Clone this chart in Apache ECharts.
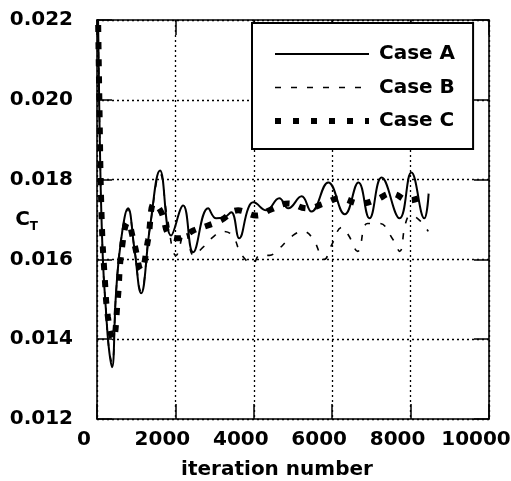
<!DOCTYPE html>
<html>
<head>
<meta charset="utf-8">
<script src="https://cdn.jsdelivr.net/npm/echarts@6/dist/echarts.min.js"></script>
<style>
html,body{margin:0;padding:0;background:#fff;}
#chart{width:511px;height:481px;}
</style>
</head>
<body>
<div id="chart"></div>
<script>
// ---- data ----
const xTicks = [0, 2000, 4000, 6000, 8000, 10000];
const yTicks = ['0.012', '0.014', '0.016', '0.018', '0.020', '0.022'];

const iterA = [0, 80, 150, 230, 300, 383, 485, 613, 792, 950, 1124, 1350, 1609, 1890, 2197, 2452, 2835, 3040, 3244, 3423, 3627, 3857, 3985, 4317, 4650, 4880, 5220, 5470, 5900, 6320, 6670, 6950, 7260, 7720, 8020, 8350, 8460];
const ctA   = [0.0240, 0.0185, 0.0160, 0.0147, 0.0138, 0.0133, 0.01515, 0.01648, 0.01728, 0.0163, 0.01515, 0.0168, 0.01823, 0.0166, 0.01735, 0.01618, 0.01728, 0.01703, 0.01705, 0.01718, 0.01653, 0.01728, 0.01743, 0.01723, 0.01753, 0.01728, 0.01758, 0.01720, 0.01793, 0.01713, 0.01793, 0.01703, 0.01805, 0.01703, 0.01818, 0.01703, 0.01765];

const iterB = [0, 80, 150, 230, 300, 383, 485, 613, 792, 950, 1124, 1350, 1609, 1800, 2020, 2250, 2470, 2700, 2950, 3200, 3450, 3700, 3980, 4150, 4400, 4570, 5000, 5250, 5500, 5800, 5980, 6250, 6420, 6650, 6900, 7200, 7550, 7720, 7870, 8000, 8230, 8450];
const ctB   = [0.0240, 0.0185, 0.0160, 0.0147, 0.0138, 0.0134, 0.01515, 0.01648, 0.01725, 0.0163, 0.01520, 0.0168, 0.01815, 0.0170, 0.0161, 0.0167, 0.0161, 0.0163, 0.01655, 0.0167, 0.0166, 0.0161, 0.0159, 0.0161, 0.0161, 0.0162, 0.0166, 0.0167, 0.01653, 0.0160, 0.01635, 0.0168, 0.0166, 0.0162, 0.0169, 0.0169, 0.0165, 0.0162, 0.0169, 0.0171, 0.01698, 0.0167];

const iterC = [0, 60, 120, 200, 280, 410, 530, 620, 790, 950, 1130, 1300, 1460, 1640, 1850, 2100, 2470, 2830, 3160, 3600, 4060, 4440, 4880, 5370, 5790, 6200, 6720, 7130, 7510, 7970, 8350, 8450];
const ctC   = [0.0240, 0.0200, 0.0170, 0.0155, 0.01455, 0.0140, 0.0150, 0.01615, 0.01693, 0.0164, 0.01573, 0.01648, 0.0174, 0.01718, 0.0166, 0.01653, 0.01673, 0.01685, 0.01698, 0.01723, 0.0171, 0.01725, 0.0174, 0.01728, 0.0174, 0.01753, 0.0174, 0.0175, 0.01765, 0.01748, 0.01758, 0.0176];

const names = ['Case A', 'Case B', 'Case C'];

// ---- chart ----
const FONT = 'DejaVu Sans';
const pairs = (xs, ys) => xs.map((x, i) => [x, ys[i]]);
const chart = echarts.init(document.getElementById('chart'), null, {renderer: 'canvas'});

const gridLine = {show: true, lineStyle: {color: '#000', width: 1.3, type: [2, 3]}};
const axisLine = {show: true, onZero: false, lineStyle: {color: '#000', width: 1.6}};
const tick = {show: true, inside: true, length: 15, lineStyle: {color: '#000', width: 1.5}};

const styleA = {color: '#000', width: 2, type: 'solid'};
const styleB = {color: '#000', width: 1.6, type: [6, 10]};
const styleC = {color: '#000', width: 6, type: [7, 10]};

chart.setOption({
  animation: false,
  backgroundColor: '#fff',
  grid: {left: 97, right: 22, top: 20, bottom: 62, containLabel: false, outerBoundsMode: 'none'},
  xAxis: [{
    type: 'value', min: 0, max: 10000, interval: 2000,
    axisLine: axisLine, axisTick: tick, splitLine: gridLine,
    axisLabel: {color: '#000', fontFamily: FONT, fontWeight: 'bold', fontSize: 20, margin: 11, padding: [0, 26, 0, 0],
      formatter: v => String(xTicks[xTicks.indexOf(v)])},
    name: 'iteration number', nameLocation: 'middle', nameGap: 41, nameMoveOverlap: false,
    nameTextStyle: {color: '#000', fontFamily: FONT, fontWeight: 'bold', fontSize: 20, padding: [0, 32, 0, 0]}
  }, {
    type: 'value', position: 'top', min: 0, max: 10000, interval: 2000,
    axisLine: axisLine, axisTick: tick, splitLine: {show: false}, axisLabel: {show: false}
  }],
  yAxis: [{
    type: 'value', min: 0.012, max: 0.022, interval: 0.002,
    axisLine: axisLine, axisTick: tick, splitLine: gridLine,
    axisLabel: {color: '#000', fontFamily: FONT, fontWeight: 'bold', fontSize: 20, margin: 24,
      formatter: v => yTicks[Math.round((v - 0.012) / 0.002)]},
    name: '{c|C}{t|T}', nameLocation: 'middle', nameRotate: 0, nameGap: 59, nameMoveOverlap: false,
    nameTextStyle: {rich: {
      c: {fontFamily: FONT, fontWeight: 'bold', fontSize: 20, color: '#000'},
      t: {fontFamily: FONT, fontWeight: 'bold', fontSize: 12, color: '#000', padding: [14, 0, 0, 0]}
    }}
  }, {
    type: 'value', position: 'right', min: 0.012, max: 0.022, interval: 0.002,
    axisLine: axisLine, axisTick: tick, splitLine: {show: false}, axisLabel: {show: false}
  }],
  legend: {
    show: true, orient: 'vertical', left: 252, top: 23,
    data: [
      {name: names[0], lineStyle: styleA},
      {name: names[1], lineStyle: styleB},
      {name: names[2], lineStyle: {color: '#000', width: 6, type: [6, 12]}}
    ],
    backgroundColor: '#fff', borderColor: '#000', borderWidth: 2,
    padding: [21, 18, 18, 20],
    itemWidth: 94, itemHeight: 20, itemGap: 13.5,
    itemStyle: {opacity: 0, borderWidth: 0},
    textStyle: {color: '#000', fontFamily: FONT, fontWeight: 'bold', fontSize: 20, padding: [0, 0, 0, 5]}
  },
  series: [{
    name: names[0], type: 'line', data: pairs(iterA, ctA), smooth: 0.45, symbol: 'none',
    itemStyle: {color: '#000'}, lineStyle: styleA, z: 3
  }, {
    name: names[1], type: 'line', data: pairs(iterB, ctB), smooth: 0.45, symbol: 'none',
    itemStyle: {color: '#000'}, lineStyle: styleB, z: 2
  }, {
    name: names[2], type: 'line', data: pairs(iterC, ctC), smooth: 0.45, symbol: 'none',
    itemStyle: {color: '#000'}, lineStyle: styleC, z: 4
  }]
});
</script>
</body>
</html>
